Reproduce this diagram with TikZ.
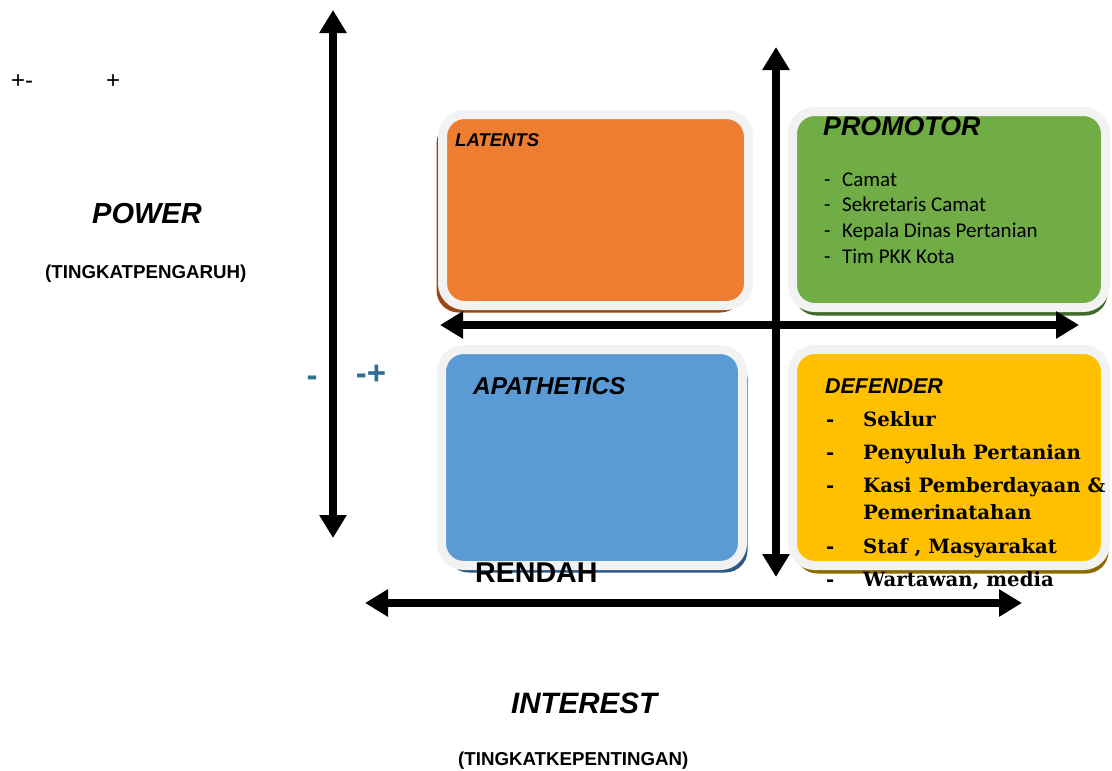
\documentclass[tikz,border=0pt]{standalone}
\usepackage{fontspec}
\setmainfont{Liberation Sans}
\newfontfamily\listsans{Carlito}
\newfontfamily\listserif{DejaVu Serif}
\usetikzlibrary{shadows,arrows.meta,positioning}

\definecolor{rimgray}{HTML}{F2F2F2}
\definecolor{latentfill}{HTML}{ED7D31}
\definecolor{latentdark}{HTML}{9A4713}
\definecolor{promofill}{HTML}{70AD47}
\definecolor{promodark}{HTML}{41692A}
\definecolor{apathfill}{HTML}{5B9BD5}
\definecolor{apathdark}{HTML}{2C5A87}
\definecolor{defendfill}{HTML}{FFC000}
\definecolor{defenddark}{HTML}{8C6A00}
\definecolor{signteal}{RGB}{46,112,142}

\tikzset{quad/.style={rectangle, rounded corners=22pt, draw=rimgray, line width=9pt, inner sep=0pt},
lbl/.style={anchor=base west, inner sep=0pt},
head/.style={lbl, font=\bfseries\itshape},
item/.style={lbl, font=\listsans\fontsize{21}{21}\selectfont},
bolditem/.style={lbl, font=\listserif\bfseries\fontsize{19.7}{19.7}\selectfont},
sign/.style={anchor=center, inner sep=0pt, font=\bfseries\fontsize{33}{33}\selectfont, text=signteal},
axis/.style={line width=8pt, {Triangle[width=26pt,length=23pt]}-{Triangle[width=26pt,length=23pt]}}}

\begin{document}
\begin{tikzpicture}[x=1pt,y=-1pt]
  \useasboundingbox (0,0) rectangle (1112,771);

  % the four quadrants
  \node (latents) [quad, fill=latentfill, minimum width=306pt, minimum height=191pt,
    general shadow={fill=latentdark, shadow xshift=-6pt, shadow yshift=-7pt}] at (595.5,210) {};
  \node (promotor) [quad, fill=promofill, minimum width=313pt, minimum height=196pt,
    general shadow={fill=promodark, shadow xshift=2pt, shadow yshift=-8pt}] at (949,209.5) {};
  \node (apathetics) [quad, fill=apathfill, minimum width=301pt, minimum height=216pt,
    general shadow={fill=apathdark, shadow xshift=5pt, shadow yshift=-7pt}] at (592,457.5) {};
  \node (defender) [quad, fill=defendfill, minimum width=313pt, minimum height=216pt,
    general shadow={fill=defenddark, shadow xshift=3pt, shadow yshift=-8pt}] at (949,457.5) {};

  % axes
  \coordinate (powtop) at (333,10);
  \coordinate (powbot) at (333,538);
  \coordinate (midtop) at (776,47);
  \coordinate (midbot) at (776,577);
  \coordinate (midleft) at (440,325);
  \coordinate (midright) at (1079,325);
  \coordinate (intleft) at (365,603);
  \coordinate (intright) at (1022,603);
  \draw [axis] (powtop) -- (powbot);
  \draw [axis] (midleft) -- (midright);
  \draw [axis] (midtop) -- (midbot);
  \draw [axis] (intleft) -- (intright);

  % quadrant titles
  \node (latentstitle) [head, font=\bfseries\itshape\fontsize{18.5}{18.5}\selectfont] at (455,146) {LATENTS};
  \node (promotortitle) [head, font=\bfseries\itshape\fontsize{26.8}{26.8}\selectfont] at (823,135) {PROMOTOR};
  \node (apathtitle) [head, font=\bfseries\itshape\fontsize{24.4}{24.4}\selectfont] at (473,394) {APATHETICS};
  \node (defendtitle) [head, font=\bfseries\itshape\fontsize{21.4}{21.4}\selectfont] at (825,393) {DEFENDER};
  \node (rendah) [lbl, font=\bfseries\fontsize{28.6}{28.6}\selectfont] at (475,582) {RENDAH};

  % promotor members
  \foreach \who [count=\i] in {Camat, Sekretaris Camat, Kepala Dinas Pertanian, Tim PKK Kota}
    \node (pm\i) [item] at (824,{186+25.7*(\i-1)}) {\makebox[18pt][l]{-}\who};

  % defender members
  \foreach \yy/\who [count=\i] in {426/Seklur, 459/Penyuluh Pertanian, 492/Kasi Pemberdayaan \&,
      553/{Staf , Masyarakat}, 586/{Wartawan, media}}
    \node (dm\i) [bolditem] at (826,\yy) {\makebox[37pt][l]{-}\who};
  \node (dm3b) [bolditem] at (863,519) {Pemerinatahan};

  % axis labels
  \node (power) [head, font=\bfseries\itshape\fontsize{29}{29}\selectfont] at (92,223) {POWER};
  \node (powersub) [lbl, font=\bfseries\fontsize{18.7}{18.7}\selectfont] at (45,278) {(TINGKATPENGARUH)};
  \node (interest) [head, font=\bfseries\itshape\fontsize{29.5}{29.5}\selectfont] at (511,713) {INTEREST};
  \node (interestsub) [lbl, font=\bfseries\fontsize{18.7}{18.7}\selectfont] at (458,765) {(TINGKATKEPENTINGAN)};
  \node (pm) [lbl, font=\fontsize{24}{24}\selectfont] at (11,88) {+-};
  \node (pp) [lbl, font=\fontsize{24}{24}\selectfont] at (106,88) {+};
  \node (lowsign) [sign] at (312,381) {-};
  \node (midsign) [sign] at (371,375) {-+};
\end{tikzpicture}
\end{document}
